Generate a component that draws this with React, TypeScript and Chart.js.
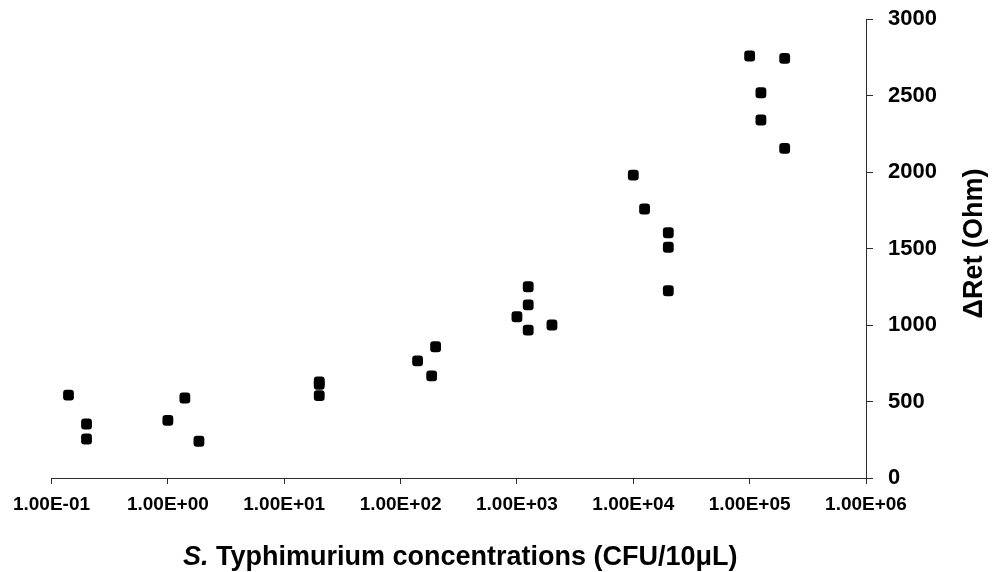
import React, { useEffect, useRef } from "react";
import { Chart, registerables } from "chart.js";

Chart.register(...registerables);

// Concentrations (CFU/10µL) and ΔRet (Ohm)
const concentrations: number[] = [
  0.14, 0.2, 0.2,
  1.0, 1.4, 1.85,
  20, 20, 20,
  140, 200, 185,
  1250, 1250, 1000, 1250, 2000,
  10000, 12500, 20000, 20000, 20000,
  100000, 125000, 125000, 200000, 200000,
];
const deltaRet: number[] = [
  542, 353, 255,
  377, 523, 240,
  628, 612, 538,
  765, 858, 667,
  1250, 1131, 1054, 967, 1000,
  1980, 1758, 1603, 1508, 1224,
  2758, 2518, 2340, 2743, 2155,
];

const xTickValues: number[] = [0.1, 1, 10, 100, 1000, 10000, 100000, 1000000];
const xTickLabels: string[] = [
  "1.00E-01", "1.00E+00", "1.00E+01", "1.00E+02",
  "1.00E+03", "1.00E+04", "1.00E+05", "1.00E+06",
];
const yMin = 0;
const yMax = 3000;
const yStep = 500;

const xTitleItalic = "S.";
const xTitleRest = " Typhimurium concentrations (CFU/10μL)";
const yTitle = "ΔRet (Ohm)";

const FONT = '"Liberation Sans", Arial, Helvetica, sans-serif';
const AXIS_COLOR = "#2b2b2b";

const titlePlugin = {
  id: "axisTitles",
  afterDraw(chart: any) {
    const { ctx, chartArea } = chart;
    ctx.save();
    ctx.fillStyle = "#000000";
    ctx.textBaseline = "alphabetic";
    ctx.textAlign = "left";
    const italicFont = `italic bold 27px ${FONT}`;
    const boldFont = `bold 27px ${FONT}`;
    ctx.font = italicFont;
    const w1 = ctx.measureText(xTitleItalic).width;
    ctx.font = boldFont;
    const w2 = ctx.measureText(xTitleRest).width;
    const cx = (chartArea.left + chartArea.right) / 2 + 1.5;
    const startX = cx - (w1 + w2) / 2;
    const baseY = chartArea.bottom + 87;
    ctx.font = italicFont;
    ctx.fillText(xTitleItalic, startX, baseY);
    ctx.font = boldFont;
    ctx.fillText(xTitleRest, startX + w1, baseY);
    // Y title rotated, reading bottom to top
    ctx.translate(chartArea.right + 116, (chartArea.top + chartArea.bottom) / 2 - 5);
    ctx.rotate(-Math.PI / 2);
    ctx.textAlign = "center";
    ctx.font = boldFont;
    ctx.fillText(yTitle, 0, 0);
    ctx.restore();
  },
};

export default function App() {
  const canvasRef = useRef<HTMLCanvasElement | null>(null);

  useEffect(() => {
    if (!canvasRef.current) return;
    const points = concentrations.map((x, i) => ({ x, y: deltaRet[i] }));
    const chart = new Chart(canvasRef.current, {
      type: "scatter",
      data: {
        datasets: [
          {
            label: "ΔRet",
            data: points,
            pointStyle: "rectRounded",
            pointRadius: 6.3,
            pointBackgroundColor: "#000000",
            pointBorderColor: "#000000",
            pointBorderWidth: 0,
            showLine: false,
          },
        ],
      },
      options: {
        animation: false,
        responsive: false,
        devicePixelRatio: 1,
        events: [],
        layout: { padding: { left: 51.5, top: 19, right: 0, bottom: 0 } },
        plugins: {
          legend: { display: false },
          tooltip: { enabled: false },
        },
        scales: {
          x: {
            type: "logarithmic",
            position: "bottom",
            min: xTickValues[0],
            max: xTickValues[xTickValues.length - 1],
            afterBuildTicks: (scale: any) => {
              scale.ticks = xTickValues.map((v) => ({ value: v }));
            },
            afterFit: (scale: any) => {
              scale.height = 94;
              scale.paddingLeft = 0;
              scale.paddingRight = 0;
            },
            grid: {
              drawOnChartArea: false,
              drawTicks: true,
              tickLength: 6,
              color: AXIS_COLOR,
              lineWidth: 1,
            },
            border: { display: true, color: AXIS_COLOR, width: 1 },
            ticks: {
              autoSkip: false,
              maxRotation: 0,
              minRotation: 0,
              padding: 9,
              color: "#000000",
              font: { family: FONT, size: 19, weight: "bold" },
              callback: (value: any) => {
                const idx = xTickValues.findIndex(
                  (v) => Math.abs(Math.log10(v) - Math.log10(Number(value))) < 1e-6
                );
                return idx >= 0 ? xTickLabels[idx] : "";
              },
            },
          },
          y: {
            type: "linear",
            position: "right",
            min: yMin,
            max: yMax,
            afterFit: (scale: any) => {
              scale.width = 126;
              scale.paddingTop = 0;
              scale.paddingBottom = 0;
            },
            grid: {
              drawOnChartArea: false,
              drawTicks: true,
              tickLength: 7,
              color: AXIS_COLOR,
              lineWidth: 1,
            },
            border: { display: true, color: AXIS_COLOR, width: 1 },
            ticks: {
              stepSize: yStep,
              padding: 15,
              color: "#000000",
              font: { family: FONT, size: 22, weight: "bold" },
              callback: (value: any) => String(value),
            },
          },
        },
      },
      plugins: [titlePlugin],
    });
    return () => chart.destroy();
  }, []);

  return (
    <div style={{ position: "absolute", left: 0, top: 0, width: 992, height: 572, background: "#ffffff" }}>
      <canvas ref={canvasRef} width={992} height={572} style={{ width: 992, height: 572 }} />
    </div>
  );
}
